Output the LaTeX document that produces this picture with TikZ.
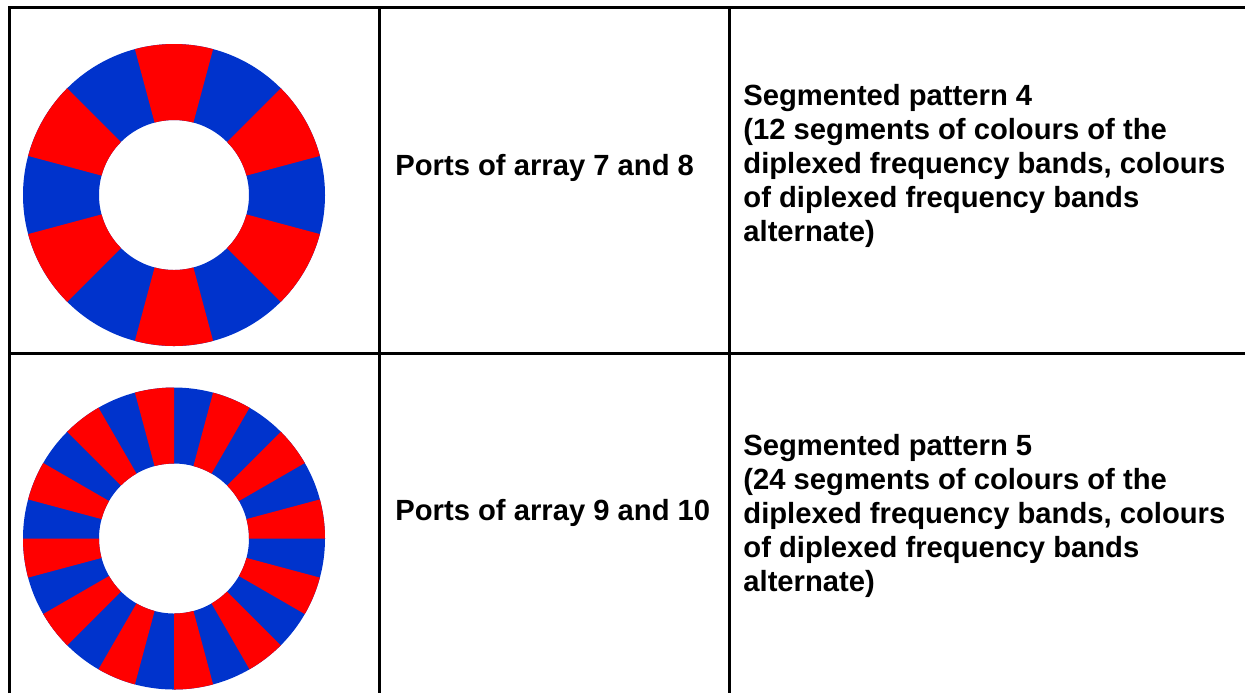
\documentclass[tikz,border=0pt]{standalone}
\usepackage{fontspec}
\setmainfont{Liberation Sans}
\usetikzlibrary{positioning}
\definecolor{bandred}{RGB}{255,0,0}
\definecolor{bandblue}{RGB}{0,51,204}

\begin{document}
\begin{tikzpicture}[x=0.5pt,y=-0.5pt,
    grid/.style={line width=1.5pt,black},
    cell/.style={font=\fontsize{14.6}{17}\selectfont\bfseries,
      inner sep=0pt,align=left,anchor=base west}]
  \useasboundingbox (0,0) rectangle (1245,693);

  % table rules
  \draw[grid] (9,693) -- (9,7) -- (1245,7);
  \draw[grid] (9,353) -- (1245,353);
  \foreach \x in {379,729}
    \draw[grid] (\x,7) -- (\x,693);

  % pattern 4: 12 segments
  \begin{scope}[shift={(174,195)}]
    \fill[bandblue,even odd rule] (0,0) circle (151) (0,0) circle (75);
    \foreach \a in {15,75,...,315}
      \fill[bandred] (\a:151) arc[start angle=\a,delta angle=30,radius=151]
        -- (\a+30:75) arc[start angle=\a+30,delta angle=-30,radius=75] -- cycle;
  \end{scope}

  % pattern 5: 24 segments
  \begin{scope}[shift={(174,538.5)}]
    \fill[bandblue,even odd rule] (0,0) circle (151) (0,0) circle (75);
    \foreach \a in {15,45,...,345}
      \fill[bandred] (\a:151) arc[start angle=\a,delta angle=15,radius=151]
        -- (\a+15:75) arc[start angle=\a+15,delta angle=-15,radius=75] -- cycle;
  \end{scope}

  % base anchor sits on the last line
  \node[cell] (ports1) at (395,175) {Ports of array 7 and 8};
  \node[cell] (pattern1) at (743,241) {Segmented pattern 4\\
    (12 segments of colours of the\\
    diplexed frequency bands, colours\\
    of diplexed frequency bands\\
    alternate)};

  \node[cell] (ports2) at (395,520) {Ports of array 9 and 10};
  \node[cell] (pattern2) at (743,591) {Segmented pattern 5\\
    (24 segments of colours of the\\
    diplexed frequency bands, colours\\
    of diplexed frequency bands\\
    alternate)};
\end{tikzpicture}
\end{document}
